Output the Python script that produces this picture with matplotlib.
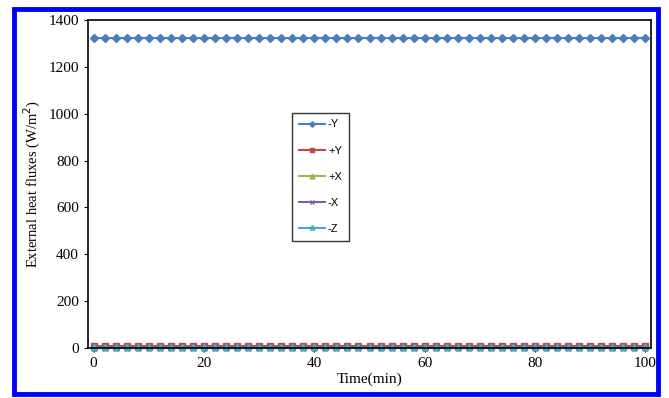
import matplotlib
matplotlib.use("Agg")
import matplotlib.pyplot as plt
from matplotlib.patches import Rectangle
import numpy as np

time = list(range(0, 101, 2))
series_names = ["-Y", "+Y", "+X", "-X", "-Z"]
val_negY = [1325] * len(time)
val_posY = [8] * len(time)
val_posX = [5] * len(time)
val_negX = [3] * len(time)
val_negZ = [2] * len(time)
values = [val_negY, val_posY, val_posX, val_negX, val_negZ]
colors = ["#4a7ebb", "#be4b48", "#98b954", "#7d60a0", "#46aac5"]
markers = ["D", "s", "^", "x", "*"]
msizes = [4, 5, 5, 5, 6]

plt.rcParams['font.family'] = ['Liberation Serif', 'DejaVu Serif']

fig = plt.figure(figsize=(6.69, 3.98), dpi=100)
ax = fig.add_axes([88/669, 1-348/398, (651-88)/669, (348-20)/398])

for name, v, c, m, ms in zip(series_names, values, colors, markers, msizes):
    ax.plot(time, v, color=c, marker=m, markersize=ms, linewidth=1.5, label=name,
            markeredgewidth=1, clip_on=False)

ax.set_xlim(-1, 101)
ax.set_ylim(0, 1400)
ax.set_xticks([0, 20, 40, 60, 80, 100])
ax.set_yticks(range(0, 1401, 200))
ax.tick_params(labelsize=11, direction='out', length=3)
ax.set_xlabel("Time(min)", fontsize=11, labelpad=2)
ax.set_ylabel("External heat fluxes (W/m$^2$)", fontsize=10.5)
for s in ax.spines.values():
    s.set_linewidth(1.2)

leg = ax.legend(loc='upper left', bbox_to_anchor=(0.363, 0.717),
                prop={'family': ['Liberation Sans', 'DejaVu Sans'], 'size': 8},
                frameon=True, fancybox=False, edgecolor='black', handlelength=2.3,
                handletextpad=0.3, labelspacing=1.45, borderpad=0.6,
                borderaxespad=0, markerscale=0.7)
leg.get_frame().set_linewidth(1.0)

fig.patches.append(Rectangle((14/669, 1-394/398), (658-14)/669, (394-9)/398,
                             transform=fig.transFigure, fill=False,
                             edgecolor='#0000ff', linewidth=3.5))

fig.savefig("out.png", dpi=100)
